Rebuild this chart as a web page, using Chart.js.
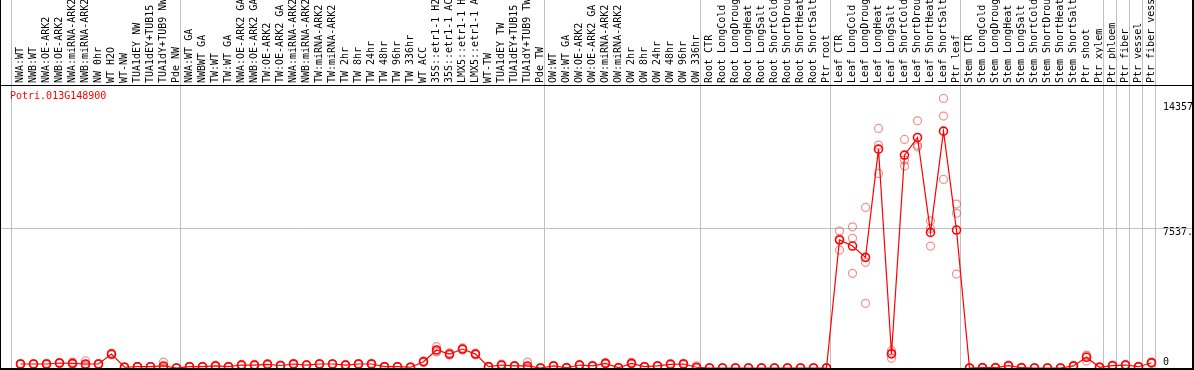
<!DOCTYPE html>
<html>
<head>
<meta charset="utf-8">
<script src="https://cdn.jsdelivr.net/npm/chart.js@4/dist/chart.umd.min.js"></script>
<style>
  html, body { margin: 0; padding: 0; background: #fff; }
</style>
</head>
<body>
<canvas id="exprChart" width="1194" height="370"></canvas>
<script>
const geneName = 'Potri.013G148900';

const labels = [
    'NWA:WT', 'NWB:WT', 'NWA:OE-ARK2', 'NWB:OE-ARK2', 'NWA:miRNA-ARK2', 'NWB:miRNA-ARK2',
    'NW 0hr', 'WT H2O', 'WT-NW', 'TUA1dEY NW', 'TUA1dEY+TUB15 NW', 'TUA1dY+TUB9 NW', 'Pde NW',
    'NWA:WT GA', 'NWBWT GA', 'TW:WT', 'TW:WT GA', 'NWA:OE-ARK2 GA', 'NWB:OE-ARK2 GA',
    'TW:OE-ARK2', 'TW:OE-ARK2 GA', 'NWA:miRNA-ARK2 GA', 'NWB:miRNA-ARK2 GA', 'TW:miRNA-ARK2',
    'TW:miRNA-ARK2 GA', 'TW 2hr', 'TW 8hr', 'TW 24hr', 'TW 48hr', 'TW 96hr', 'TW 336hr',
    'WT ACC', '35S::etr1-1 H2O', '35S::etr1-1 ACC', 'LMX5::etr1-1 H2O', 'LMX5::etr1-1 ACC',
    'WT-TW', 'TUA1dEY TW', 'TUA1dEY+TUB15 TW', 'TUA1dY+TUB9 TW', 'Pde TW',
    'OW:WT', 'OW:WT GA', 'OW:OE-ARK2', 'OW:OE-ARK2 GA', 'OW:miRNA-ARK2', 'OW:miRNA-ARK2 GA',
    'OW 2hr', 'OW 8hr', 'OW 24hr', 'OW 48hr', 'OW 96hr', 'OW 336hr',
    'Root CTR', 'Root LongCold', 'Root LongDrought', 'Root LongHeat', 'Root LongSalt',
    'Root ShortCold', 'Root ShortDrought', 'Root ShortHeat', 'Root ShortSalt', 'Ptr root',
    'Leaf CTR', 'Leaf LongCold', 'Leaf LongDrought', 'Leaf LongHeat', 'Leaf LongSalt',
    'Leaf ShortCold', 'Leaf ShortDrought', 'Leaf ShortHeat', 'Leaf ShortSalt', 'Ptr leaf',
    'Stem CTR', 'Stem LongCold', 'Stem LongDrought', 'Stem LongHeat', 'Stem LongSalt',
    'Stem ShortCold', 'Stem ShortDrought', 'Stem ShortHeat', 'Stem ShortSalt', 'Ptr shoot',
    'Ptr xylem', 'Ptr phloem', 'Ptr fiber', 'Ptr vessel', 'Ptr fiber vessel'
];

// mean expression per sample
const meanValues = [
    215, 215, 215, 270, 250, 215, 215, 750, 40, 70, 70, 110, 0,
    70, 70, 110, 70, 160, 160, 200, 135, 215, 160, 215, 215, 160, 215, 215,
    70, 70, 40, 340, 970, 750, 1020, 750, 70, 160, 110, 110, 0,
    110, 15, 160, 110, 250, 15, 250, 70, 110, 200, 215, 40,
    0, 0, 0, 0, 0, 0, 0, 0, 0, 0,
    6890, 6565, 5955, 11780, 755, 11460, 12410, 7300, 12750, 7425,
    0, 15, 15, 125, 15, 0, 0, 0, 110, 575, 40, 125, 160, 70, 285
];

// individual replicates
const rep1 = [
    240, 230, 250, 300, 320, 390, 240, 800, 60, 90, 80, 320, 0,
    90, 80, 150, 90, 200, 190, 240, 160, 250, 180, 240, 230, 200, 240, 250,
    90, 80, 60, 390, 1150, 820, 1080, 800, 90, 215, 130, 320, 0,
    130, 30, 190, 140, 290, 30, 300, 90, 130, 240, 250, 120,
    0, 0, 0, 0, 0, 0, 0, 0, 0, 0,
    7370, 7600, 8645, 12895, 930, 12305, 13305, 7925, 14510, 8825,
    0, 30, 30, 160, 30, 0, 0, 0, 140, 700, 60, 160, 190, 90, 330
];
const rep2 = [
    215, 215, 210, 270, 230, 150, 210, 750, 40, 70, 70, 10, 0,
    70, 70, 100, 70, 150, 160, 200, 130, 210, 160, 215, 215, 150, 210, 210,
    70, 70, 40, 330, 900, 740, 1010, 750, 70, 150, 110, 10, 0,
    110, 15, 160, 100, 250, 15, 240, 70, 110, 200, 210, 0,
    0, 0, 0, 0, 0, 0, 0, 0, 0, 0,
    6950, 6980, 5690, 12000, 815, 11190, 12000, 7515, 13560, 8325,
    0, 15, 15, 120, 15, 0, 0, 0, 100, 650, 40, 120, 160, 70, 280
];
const rep3 = [
    190, 200, 185, 240, 200, 105, 195, 700, 20, 50, 60, 0, 0,
    50, 60, 80, 50, 130, 130, 160, 115, 185, 140, 190, 200, 130, 195, 185,
    50, 60, 20, 300, 860, 690, 970, 700, 50, 115, 90, 0, 0,
    90, 0, 130, 90, 210, 0, 210, 50, 90, 160, 185, 0,
    0, 0, 0, 0, 0, 0, 0, 0, 0, 0,
    6350, 5095, 3480, 10475, 520, 10870, 11905, 6565, 10150, 5055,
    0, 0, 0, 95, 0, 0, 0, 0, 90, 375, 20, 95, 130, 50, 245
];

const yTicks = [0, 7537, 14357];
const yTickLabels = ['0', '7537.', '14357'];
const yMax = 15180;

// category indices after which a separator line is drawn
const groupEnds = [-1, 12, 40, 52, 62, 72, 83, 84, 85, 86, 87];

const monoFont = '"DejaVu Sans Mono", "Liberation Mono", monospace';

// separators, gridline, frame and gene name
const framePlugin = {
    id: 'frame',
    beforeDatasetsDraw(chart) {
        const c = chart.ctx;
        const xs = chart.scales.x;
        const ys = chart.scales.y;
        c.save();
        c.strokeStyle = '#c0c0c0';
        c.lineWidth = 1;
        c.beginPath();
        groupEnds.forEach(i => {
            const px = Math.round(xs.getPixelForValue(i) + 3.5) + 0.5;
            c.moveTo(px, 0);
            c.lineTo(px, chart.height);
        });
        const gy = Math.round(ys.getPixelForValue(yTicks[1])) + 0.5;
        c.moveTo(0, gy);
        c.lineTo(chart.width, gy);
        c.stroke();
        c.restore();
    },
    afterDraw(chart) {
        const c = chart.ctx;
        const area = chart.chartArea;
        c.save();
        c.fillStyle = '#000';
        c.fillRect(0, area.top - 1, chart.width, 1);
        c.fillRect(0, area.bottom, chart.width, 2);
        c.fillRect(0, 0, 1, chart.height);
        c.fillRect(chart.width - 2, 0, 2, chart.height);
        c.fillStyle = '#ff0000';
        c.font = '10px ' + monoFont;
        c.textBaseline = 'middle';
        c.fillText(geneName, 10, area.top + 10);
        c.restore();
    }
};

function repDataset(data) {
    return {
        data: data,
        showLine: false,
        pointRadius: 4,
        pointBorderWidth: 1.2,
        pointBorderColor: 'rgba(230, 70, 70, 0.6)',
        pointBackgroundColor: 'rgba(0, 0, 0, 0)',
        clip: 0,
        order: 1
    };
}

const ctx = document.getElementById('exprChart').getContext('2d');
const chart = new Chart(ctx, {
    type: 'line',
    data: {
        labels: labels,
        datasets: [
            {
                label: geneName,
                data: meanValues,
                borderColor: '#ff0000',
                borderWidth: 1.2,
                pointRadius: 4,
                pointBorderWidth: 1.6,
                pointBorderColor: '#ff0000',
                pointBackgroundColor: 'rgba(0, 0, 0, 0)',
                tension: 0,
                clip: 0,
                order: 0
            },
            repDataset(rep1),
            repDataset(rep2),
            repDataset(rep3)
        ]
    },
    options: {
        responsive: false,
        animation: false,
        layout: {
            autoPadding: false,
            padding: { left: 14, right: 0, top: 0, bottom: 2 }
        },
        plugins: {
            legend: { display: false },
            tooltip: { enabled: false }
        },
        scales: {
            x: {
                type: 'category',
                position: 'top',
                offset: true,
                grid: { display: false, drawTicks: false },
                border: { display: false },
                ticks: {
                    autoSkip: false,
                    minRotation: 90,
                    maxRotation: 90,
                    padding: 3,
                    labelOffset: 12,
                    color: '#000',
                    font: { family: monoFont, size: 10 }
                },
                afterFit(scale) {
                    scale.height = 86;
                    scale.paddingLeft = 0;
                    scale.paddingRight = 0;
                }
            },
            y: {
                position: 'right',
                min: 0,
                max: yMax,
                grid: { display: false, drawTicks: false },
                border: { display: false },
                afterBuildTicks(scale) {
                    scale.ticks = yTicks.map(v => ({ value: v }));
                },
                ticks: {
                    padding: 5,
                    color: '#000',
                    font: ctx => ({
                        family: monoFont,
                        size: 10,
                        lineHeight: ctx.tick && ctx.tick.value === yTicks[1] ? 0.8 : 1.2
                    }),
                    // nudge labels: zero sits above its line, the others below
                    callback: (value, i) => value === 0 ? [yTickLabels[i], ''] : ['', yTickLabels[i]]
                },
                afterFit(scale) {
                    scale.width = 36;
                    scale.paddingTop = 0;
                    scale.paddingBottom = 0;
                }
            }
        }
    },
    plugins: [framePlugin]
});
</script>
</body>
</html>
